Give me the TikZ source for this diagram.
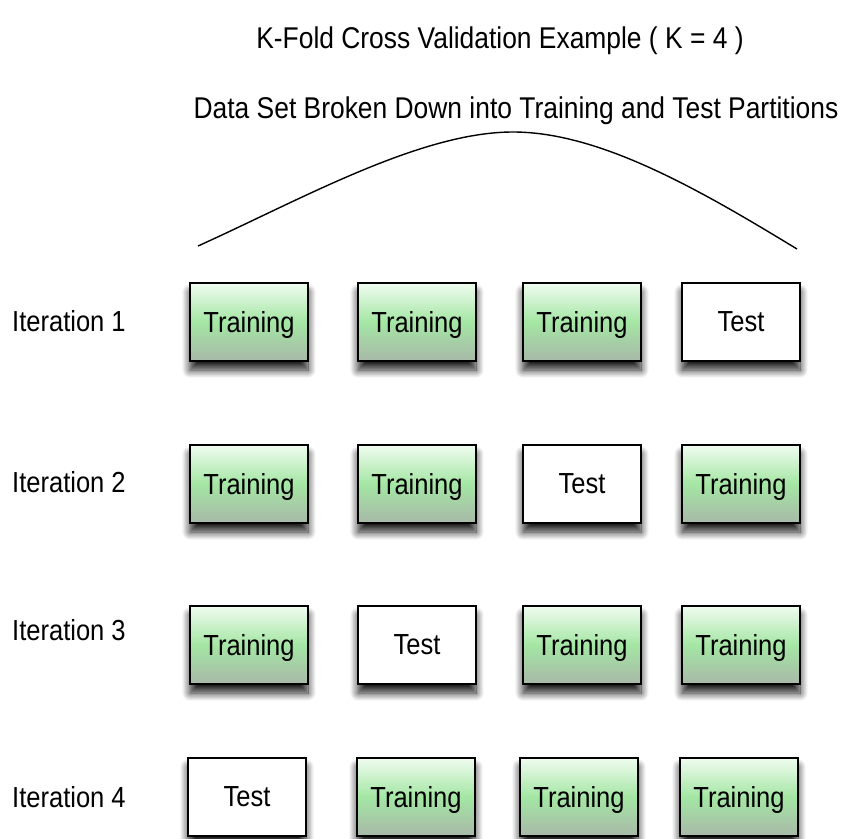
\documentclass[tikz,border=0pt]{standalone}
\usepackage{fontspec}
\setmainfont[FakeStretch=0.88]{Liberation Sans}
\usetikzlibrary{shadows.blur}
\definecolor{gtop}{HTML}{F0FCF0}
\definecolor{gmid}{HTML}{A4E6A4}
\definecolor{gbot}{HTML}{A8B8A8}
\tikzstyle{part}=[rectangle, draw=black, line width=1.5pt, minimum width=118pt, minimum height=78pt, inner sep=0pt, text depth=0pt, anchor=center, blur shadow={shadow xshift=0pt, shadow yshift=-9pt, shadow blur radius=8pt, shadow blur steps=12, shadow opacity=90}, font=\fontsize{29}{34}\selectfont]
\tikzstyle{train}=[part, top color=gtop, bottom color=gbot, middle color=gmid]
\tikzstyle{test}=[part, fill=white]
\tikzstyle{annot}=[align=center, inner sep=0pt, font=\fontsize{30}{34}\selectfont]
\tikzstyle{iter}=[anchor=base west, inner sep=0pt, font=\fontsize{29}{34}\selectfont]

\begin{document}
\begin{tikzpicture}[x=1pt, y=-1pt]
	\useasboundingbox (0,0) rectangle (842,838);

	\node[annot, anchor=base](title) at (500,48){K-Fold Cross Validation Example ( K = 4 )};
	\node[annot, anchor=base](subtitle) at (516,118){Data Set Broken Down into Training and Test Partitions};

	% the data set curve
	\coordinate (cl) at (198,246);
	\coordinate (ct) at (513,132);
	\coordinate (cr) at (797,249);
	\draw[line width=1.4pt] (cl) .. controls (300,200) and (420,132) .. (ct) .. controls (600,132) and (700,190) .. (cr);

	\node[iter](iter1) at (12,331){Iteration 1};
	\node[iter](iter2) at (12,492){Iteration 2};
	\node[iter](iter3) at (12,640){Iteration 3};
	\node[iter](iter4) at (12,807){Iteration 4};

	\node[train](b11) at (249,322){Training};
	\node[train](b12) at (417,322){Training};
	\node[train](b13) at (582,322){Training};
	\node[test](b14) at (741,322){Test};

	\node[train](b21) at (249,484){Training};
	\node[train](b22) at (417,484){Training};
	\node[test](b23) at (582,484){Test};
	\node[train](b24) at (741,484){Training};

	\node[train](b31) at (249,645){Training};
	\node[test](b32) at (417,645){Test};
	\node[train](b33) at (582,645){Training};
	\node[train](b34) at (741,645){Training};

	\node[test](b41) at (247,797){Test};
	\node[train](b42) at (416,797){Training};
	\node[train](b43) at (579,797){Training};
	\node[train](b44) at (739,797){Training};

\end{tikzpicture}
\end{document}
